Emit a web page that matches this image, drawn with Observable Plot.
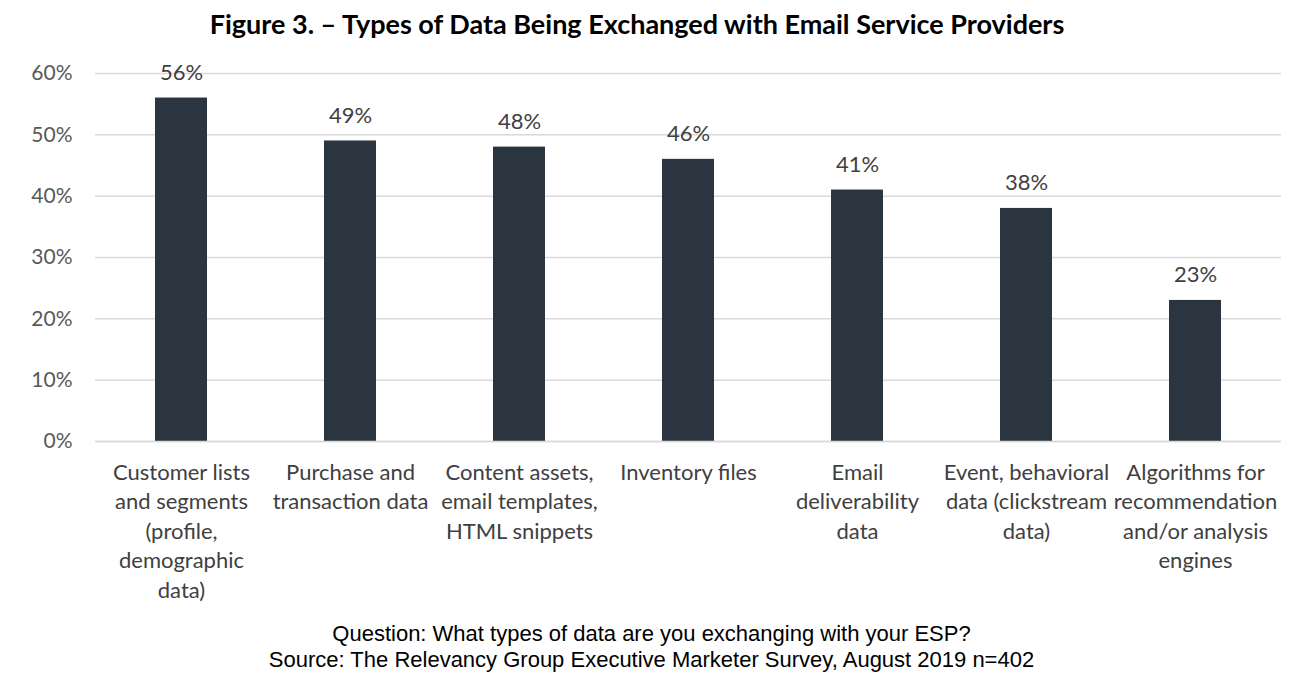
<!DOCTYPE html>
<html>
<head>
<meta charset="utf-8">
<script src="https://cdn.jsdelivr.net/npm/d3@7"></script>
<script src="https://cdn.jsdelivr.net/npm/@observablehq/plot@0.6"></script>
<style>
  body { margin: 0; background: #fff; width: 1303px; }
  #title { height: 52px; box-sizing: border-box; padding-top: 7px; text-align: center; font-family: Lato, sans-serif; font-weight: bold; font-size: 27px; color: #000; padding-right: 29px; }
  #caption { text-align: center; font-family: "Liberation Sans", Arial, sans-serif; font-size: 22px; line-height: 26px; color: #000; margin-top: 6px; }
  svg { display: block; }
</style>
</head>
<body>
<div id="title">Figure 3. – Types of Data Being Exchanged with Email Service Providers</div>
<div id="chart"></div>
<div id="caption">Question: What types of data are you exchanging with your ESP?<br>Source: The Relevancy Group Executive Marketer Survey, August 2019 n=402</div>
<script>
const categories = [
  "Customer lists\nand segments\n(profile,\ndemographic\ndata)",
  "Purchase and\ntransaction data",
  "Content assets,\nemail templates,\nHTML snippets",
  "Inventory files",
  "Email\ndeliverability\ndata",
  "Event, behavioral\ndata (clickstream\ndata)",
  "Algorithms for\nrecommendation\nand/or analysis\nengines"
];
const values = [56, 49, 48, 46, 41, 38, 23];
const yTicks = [0, 10, 20, 30, 40, 50, 60];

const data = categories.map((c, i) => ({category: c, value: values[i]}));

const chart = Plot.plot({
  width: 1303,
  height: 563,
  marginLeft: 95,
  marginRight: 22,
  marginTop: 21,
  marginBottom: 174,
  style: {fontFamily: "Lato, sans-serif", fontSize: "21px", color: "#595959", background: "#fff"},
  x: {domain: categories, paddingInner: 0.69, paddingOuter: 0.345, label: null},
  y: {domain: [0, 60], label: null},
  marks: [
    Plot.gridY(yTicks, {stroke: "#d9d9d9", strokeOpacity: 1, strokeWidth: 1.5}),
    Plot.axisY(yTicks, {tickSize: 0, tickPadding: 23, tickFormat: d => d + "%", fontSize: 21, fill: "#595959"}),
    Plot.barY(data, {x: "category", y: "value", fill: "#2b3540"}),
    Plot.ruleY([0], {stroke: "#d9d9d9", strokeWidth: 1.5}),
    Plot.text(data, {x: "category", y: "value", text: d => d.value + "%", dy: -18, lineAnchor: "bottom", fontSize: 22, fill: "#404040"}),
    Plot.axisX({tickSize: 0, tickPadding: 17, fontSize: 22, lineHeight: 1.345, fill: "#404040", tickFormat: d => d})
  ]
});
document.getElementById("chart").appendChild(chart);
</script>
</body>
</html>
